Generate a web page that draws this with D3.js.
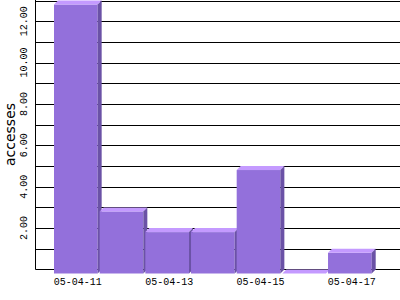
<!DOCTYPE html>
<html>
<head>
<meta charset="utf-8">
<script src="https://cdn.jsdelivr.net/npm/d3@7"></script>
<style>
  html, body { margin: 0; padding: 0; background: #fff; }
  svg { display: block; }
</style>
</head>
<body>
<svg id="chart" width="400" height="300"></svg>
<script>
// data
var days = ['05-04-11', '05-04-12', '05-04-13', '05-04-14', '05-04-15', '05-04-16', '05-04-17']
var accesses = [13, 3, 2, 2, 5, 0, 1]
var yTicks = [2, 4, 6, 8, 10, 12]
var xLabels = ['05-04-11', '05-04-13', '05-04-15', '05-04-17']

// look
var colorFront = '#9370db'
var colorTop = '#c49aff'
var colorSide = '#6b52a6'
var depthX = 4
var depthY = 4

var svg = d3.select('#chart')
var left = 35.5, bottom = 269.5

var x = d3.scaleBand().domain(days).range([54, 373.7])
var y = d3.scaleLinear().domain([0, 13]).range([bottom, 0.5])

// grid lines, one per unit
svg.append('g')
  .selectAll('line')
  .data(d3.range(1, 14))
  .join('line')
  .attr('x1', left).attr('x2', 400)
  .attr('y1', function(d) { return Math.round(y(d)) + 0.5 })
  .attr('y2', function(d) { return Math.round(y(d)) + 0.5 })
  .attr('stroke', '#000')

// axes
svg.append('line')
  .attr('x1', left).attr('x2', 400).attr('y1', bottom).attr('y2', bottom)
  .attr('stroke', '#000')
svg.append('line')
  .attr('x1', left).attr('x2', left).attr('y1', 0).attr('y2', bottom)
  .attr('stroke', '#000')

// bars: front, top and side faces
var w = x.bandwidth() - 2
var bars = svg.append('g')
  .selectAll('g')
  .data(days.map(function(d, i) { return { day: d, value: accesses[i] } }))
  .join('g')

bars.append('rect')
  .attr('x', function(d) { return x(d.day) })
  .attr('y', function(d) { return y(d.value) + depthY })
  .attr('width', w)
  .attr('height', function(d) { return y(0) - y(d.value) })
  .attr('fill', colorFront)

bars.append('path')
  .attr('fill', colorTop)
  .attr('d', function(d) {
    var x0 = x(d.day), y0 = y(d.value)
    return 'M' + x0 + ',' + (y0 + depthY) +
      'L' + (x0 + depthX) + ',' + y0 +
      'L' + (x0 + w + depthX) + ',' + y0 +
      'L' + (x0 + w) + ',' + (y0 + depthY) + 'Z'
  })

bars.append('path')
  .attr('fill', colorSide)
  .attr('d', function(d) {
    var x0 = x(d.day) + w, y0 = y(d.value)
    return 'M' + x0 + ',' + (y0 + depthY) +
      'L' + (x0 + depthX) + ',' + y0 +
      'L' + (x0 + depthX) + ',' + y(0) +
      'L' + x0 + ',' + (y(0) + depthY) + 'Z'
  })

// y tick labels
svg.append('g')
  .selectAll('text')
  .data(yTicks)
  .join('text')
  .attr('transform', function(d) { return 'translate(27,' + y(d) + ') rotate(-90)' })
  .attr('text-anchor', 'middle')
  .attr('font-family', 'Liberation Mono')
  .attr('font-size', 10)
  .text(function(d) { return d.toFixed(2) })

// x labels
svg.append('g')
  .selectAll('text')
  .data(xLabels)
  .join('text')
  .attr('x', function(d) { return x(d) + (w + depthX) / 2 })
  .attr('y', 285)
  .attr('text-anchor', 'middle')
  .attr('font-family', 'Liberation Mono')
  .attr('font-size', 10)
  .text(function(d) { return d })

svg.append('text')
  .attr('transform', 'translate(15,134.5) rotate(-90)')
  .attr('text-anchor', 'middle')
  .attr('font-family', 'DejaVu Sans')
  .attr('font-size', 14)
  .text('accesses')
</script>
</body>
</html>
